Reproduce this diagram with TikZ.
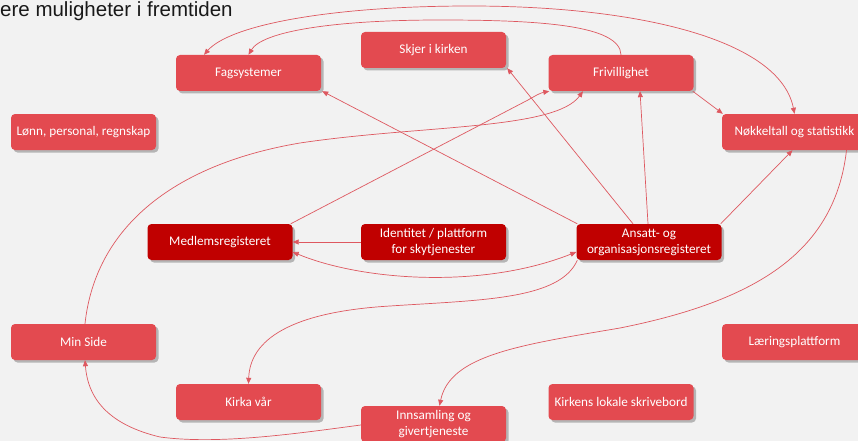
\documentclass[tikz,border=0pt]{standalone}
\usepackage{fontspec}
\setmainfont{Carlito}
\newfontfamily\titlefont{Liberation Sans}
\usetikzlibrary{arrows.meta,shadows}
\definecolor{bg}{RGB}{242,242,242}
\definecolor{boxlight}{RGB}{227,74,80}
\definecolor{boxdark}{RGB}{192,0,0}
\definecolor{linkred}{RGB}{222,88,96}
\begin{document}
\begin{tikzpicture}[x=1pt,y=-1pt,
  box/.style={rounded corners=4pt, minimum width=145pt, minimum height=36pt, inner sep=2pt,
    text=white, align=center, font=\fontsize{13.2}{16}\selectfont,
    drop shadow={shadow xshift=2.5pt,shadow yshift=-2.5pt,fill=black,opacity=0.25}},
  lightbox/.style={box, fill=boxlight},
  darkbox/.style={box, fill=boxdark},
  link/.style={draw=linkred, line width=0.7pt, -{Triangle[length=6pt,width=5pt]}},
  dlink/.style={draw=linkred, line width=0.7pt, {Triangle[length=6pt,width=5pt]}-{Triangle[length=6pt,width=5pt]}}]
\useasboundingbox (0,0) rectangle (858,441);
\fill[bg] (0,0) rectangle (858,441);
\clip (0,0) rectangle (858,441);

\node[anchor=base west, inner sep=0, text=black!90, font=\titlefont\fontsize{20.5}{24}\selectfont] (title) at (0,17) {ere muligheter i fremtiden};

\node[lightbox] (fag) at (248.5,73) {Fagsystemer};
\node[lightbox] (skjer) at (433.5,50) {Skjer i kirken};
\node[lightbox] (friv) at (621,73) {Frivillighet};
\node[lightbox] (lonn) at (83.5,132) {Lønn, personal, regnskap};
\node[lightbox] (nokk) at (794.5,132) {Nøkkeltall og statistikk};
\node[darkbox] (medl) at (220,242) {Medlemsregisteret};
\node[darkbox] (ident) at (433.5,242) {Identitet / plattform\\for skytjenester};
\node[darkbox] (ansatt) at (649,242) {Ansatt- og\\organisasjonsregisteret};
\node[lightbox] (minside) at (83.5,342) {Min Side};
\node[lightbox] (laer) at (794.5,342) {Læringsplattform};
\node[lightbox] (kirka) at (248.5,402) {Kirka vår};
\node[lightbox] (kirkens) at (621,402) {Kirkens lokale skrivebord};
\node[lightbox] (innsam) at (433.5,424) {Innsamling og\\givertjeneste};

% top arcs
\draw[dlink] ([xshift=-44.5pt]fag.north) .. controls (230,25) and (330,6) .. (470,6)
  .. controls (640,6) and (780,40) .. (nokk.north);
\draw[link] (friv.north) .. controls (620,25) and (540,20) .. (440,20)
  .. controls (330,20) and (262,32) .. (fag.north);
% straight lines from Ansatt
\draw[link] ([xshift=1pt]ansatt.north west) -- ([xshift=1pt]fag.south east);
\draw[link] ([xshift=-16pt]ansatt.north) -- ([xshift=1pt]skjer.south east);
\draw[link] ([xshift=-1pt]ansatt.north) -- ([xshift=19pt]friv.south);
\draw[link] ([xshift=-1pt]ansatt.north east) -- ([xshift=-2pt]nokk.south);
\draw[link] ([xshift=-1pt]friv.south east) -- ([xshift=1pt]nokk.north west);
% Medlemsregisteret -> Frivillighet
\draw[link] ([xshift=-2pt]medl.north east) -- (528,100) .. controls (535,96) and (540,93) .. ([xshift=1pt]friv.south west);
% Min Side -> Frivillighet
\draw[link] ([xshift=1.5pt]minside.north) .. controls (95,230) and (170,165) .. (300,143)
  .. controls (420,125) and (555,130) .. ([xshift=-38pt]friv.south);
% Identitet -> Medlemsregisteret
\draw[link] (ident.west) -- (medl.east);
% Medlemsregisteret <-> Ansatt
\draw[dlink] ([yshift=-10pt]medl.east) .. controls (360,280) and (480,290) .. ([yshift=-10pt]ansatt.west);
% Ansatt -> Kirka vaar
\draw[link] ([xshift=1pt]ansatt.south west) .. controls (560,300) and (480,300) .. (390,306)
  .. controls (290,312) and (250,340) .. (kirka.north);
% Noekkeltall -> Innsamling
\draw[link] ([xshift=52pt]nokk.south) .. controls (835,250) and (760,300) .. (620,328)
  .. controls (520,345) and (450,355) .. ([xshift=6pt]innsam.north);
% Innsamling -> Min Side
\draw[link] ([yshift=-1pt]innsam.west) .. controls (300,433) and (220,445) .. (160,437)
  .. controls (110,425) and (88,400) .. ([xshift=1.5pt]minside.south);
\end{tikzpicture}
\end{document}
